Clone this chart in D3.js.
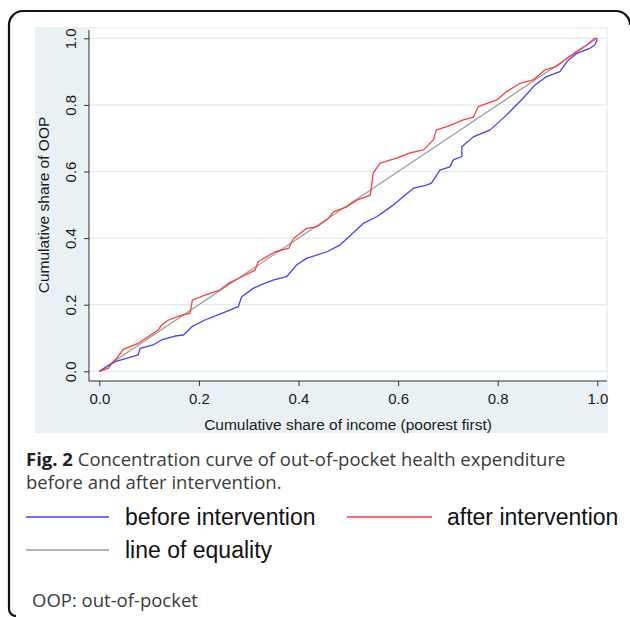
<!DOCTYPE html>
<html>
<head>
<meta charset="utf-8">
<script src="https://cdn.jsdelivr.net/npm/d3@7"></script>
<style>
  html, body { margin: 0; padding: 0; background: #fff; }
  svg { display: block; }
</style>
</head>
<body>
<svg id="chart" width="630" height="617"></svg>
<script>
// ---------------- DATA ----------------
const xTicks = [0, 0.2, 0.4, 0.6, 0.8, 1.0];
const yTicks = [0, 0.2, 0.4, 0.6, 0.8, 1.0];
const tickFormat = d => d.toFixed(1);

// cumulative share of income (poorest first) / cumulative share of OOP
const beforeIncome = [0, .032, .078, .082, .108, .125, .152, .169, .186, .212, .246, .279, .286, .309, .323, .349, .376, .396, .416, .457, .483, .503, .530, .557, .590, .610, .631, .657, .667, .684, .704, .711, .728, .728, .751, .785, .818, .851, .875, .898, .925, .939, .959, .985, .995, 1.0];
const beforeOOP    = [0, .029, .049, .069, .079, .094, .106, .109, .134, .154, .174, .194, .224, .249, .259, .274, .284, .319, .339, .359, .379, .406, .444, .464, .499, .524, .550, .559, .565, .604, .614, .635, .645, .674, .704, .725, .770, .820, .860, .885, .900, .930, .955, .970, .980, .997];

const afterIncome = [0, .018, .025, .035, .048, .078, .098, .118, .125, .139, .165, .182, .187, .212, .242, .259, .286, .313, .319, .353, .380, .390, .416, .437, .460, .470, .497, .517, .544, .550, .564, .597, .624, .651, .671, .677, .698, .731, .751, .761, .798, .818, .845, .871, .895, .918, .939, .965, .979, .995, 1.0];
const afterOOP    = [0, .009, .024, .039, .066, .084, .104, .124, .139, .154, .169, .174, .214, .229, .244, .264, .284, .304, .329, .359, .369, .399, .429, .434, .459, .479, .494, .514, .529, .595, .625, .640, .656, .665, .695, .725, .735, .755, .763, .795, .815, .840, .865, .875, .905, .915, .940, .967, .980, 1.0, 1.0];

const equalityIncome = [0, 1];
const equalityOOP    = [0, 1];

const xTitle = "Cumulative share of income (poorest first)";
const yTitle = "Cumulative share of OOP";
const seriesNames = ["before intervention", "after intervention", "line of equality"];
const captionBold = "Fig. 2";
const captionLine1 = " Concentration curve of out-of-pocket health expenditure";
const captionLine2 = "before and after intervention.";
const footnote = "OOP: out-of-pocket";

// ---------------- LAYOUT ----------------
const svg = d3.select("#chart");
const colors = { before: "#4040ff", after: "#ff3c3c", equal: "#9a9a9a" };

// outer frame (rounded border)
svg.append("path")
  .attr("d", "M16,616 A7,7 0 0 1 9,609 L9,25 A14,14 0 0 1 23,11 L616,11 A14,14 0 0 1 630,25")
  .attr("fill", "none").attr("stroke", "#111").attr("stroke-width", 2.2);

// graph region background
svg.append("rect").attr("x", 35).attr("y", 27).attr("width", 573).attr("height", 406)
  .attr("fill", "#eaf1f4");

const plot = { left: 89, right: 607, top: 28, bottom: 381 };
svg.append("rect").attr("x", plot.left).attr("y", plot.top)
  .attr("width", plot.right - plot.left).attr("height", plot.bottom - plot.top)
  .attr("fill", "#ffffff").attr("stroke", "#e4eef3").attr("stroke-width", 1);

const x = d3.scaleLinear().domain([0, 1]).range([99.3, 597.3]);
const y = d3.scaleLinear().domain([0, 1]).range([371.3, 38.3]);

// gridlines
svg.append("g").selectAll("line").data(yTicks).join("line")
  .attr("x1", plot.left).attr("x2", plot.right)
  .attr("y1", d => y(d)).attr("y2", d => y(d))
  .attr("stroke", "#dfeaf0").attr("stroke-width", 1.2);

// axes
const xAxis = svg.append("g").attr("transform", `translate(0,${plot.bottom})`)
  .call(d3.axisBottom(x).tickValues(xTicks).tickFormat(tickFormat).tickSize(5).tickSizeOuter(0));
xAxis.select(".domain").attr("d", `M${plot.left},0H${plot.right}`).attr("stroke", "#333");
xAxis.selectAll(".tick line").attr("stroke", "#333");
xAxis.selectAll(".tick text").attr("y", 23.3).attr("dy", 0)
  .attr("font-family", "'Liberation Sans', Arial, sans-serif").attr("font-size", 15).attr("fill", "#1a1a1a");

const yAxis = svg.append("g").attr("transform", `translate(${plot.left},0)`)
  .call(d3.axisLeft(y).tickValues(yTicks).tickFormat(tickFormat).tickSize(5).tickSizeOuter(0));
yAxis.select(".domain").attr("d", `M0,${plot.top + 2}V${plot.bottom}`).attr("stroke", "#333");
yAxis.selectAll(".tick line").attr("stroke", "#333");
yAxis.selectAll(".tick text")
  .attr("transform", "rotate(-90)")
  .attr("x", 0).attr("y", -13).attr("dy", 0)
  .attr("text-anchor", "middle")
  .attr("font-family", "'Liberation Sans', Arial, sans-serif").attr("font-size", 15).attr("fill", "#1a1a1a");

// axis titles
svg.append("text").attr("x", (plot.left + plot.right) / 2).attr("y", 430)
  .attr("text-anchor", "middle")
  .attr("font-family", "'Liberation Sans', Arial, sans-serif").attr("font-size", 15.5).attr("fill", "#1a1a1a")
  .text(xTitle);
svg.append("text").attr("transform", `translate(48.5,205) rotate(-90)`)
  .attr("text-anchor", "middle")
  .attr("font-family", "'Liberation Sans', Arial, sans-serif").attr("font-size", 15.5).attr("fill", "#1a1a1a")
  .text(yTitle);

// lines
const line = d3.line().x(d => x(d[0])).y(d => y(d[1]));
const mk = (xs, ys) => xs.map((v, i) => [v, ys[i]]);
svg.append("path").datum(mk(equalityIncome, equalityOOP)).attr("d", line)
  .attr("fill", "none").attr("stroke", colors.equal).attr("stroke-width", 1.2);
svg.append("path").datum(mk(beforeIncome, beforeOOP)).attr("d", line)
  .attr("fill", "none").attr("stroke", colors.before).attr("stroke-width", 1.3).attr("stroke-linejoin", "round");
svg.append("path").datum(mk(afterIncome, afterOOP)).attr("d", line)
  .attr("fill", "none").attr("stroke", colors.after).attr("stroke-width", 1.3).attr("stroke-linejoin", "round");

// caption
const capFont = "'Open Sans', 'Noto Sans', sans-serif";
const cap = svg.append("text").attr("x", 26).attr("y", 465.7)
  .attr("font-family", capFont).attr("font-size", 18.5).attr("fill", "#3a3a3a");
cap.append("tspan").attr("font-weight", "bold").attr("fill", "#222").text(captionBold);
cap.append("tspan").text(captionLine1);
svg.append("text").attr("x", 26).attr("y", 489)
  .attr("font-family", capFont).attr("font-size", 18.5).attr("fill", "#3a3a3a")
  .text(captionLine2);

// legend
const legend = [
  { name: seriesNames[0], color: colors.before, x1: 26, x2: 109, tx: 125, y: 517 },
  { name: seriesNames[1], color: colors.after, x1: 347, x2: 432, tx: 447, y: 517 },
  { name: seriesNames[2], color: colors.equal, x1: 26, x2: 109, tx: 125, y: 550 }
];
const lg = svg.append("g").selectAll("g").data(legend).join("g");
lg.append("line").attr("x1", d => d.x1).attr("x2", d => d.x2)
  .attr("y1", d => d.y).attr("y2", d => d.y)
  .attr("stroke", d => d.color).attr("stroke-width", 1.4);
lg.append("text").attr("x", d => d.tx).attr("y", d => d.y + 8)
  .attr("font-family", "'Liberation Sans', Arial, sans-serif").attr("font-size", 23).attr("fill", "#111")
  .text(d => d.name);

// footnote
svg.append("text").attr("x", 32).attr("y", 606.7)
  .attr("font-family", capFont).attr("font-size", 18.5).attr("fill", "#3a3a3a")
  .text(footnote);
</script>
</body>
</html>
